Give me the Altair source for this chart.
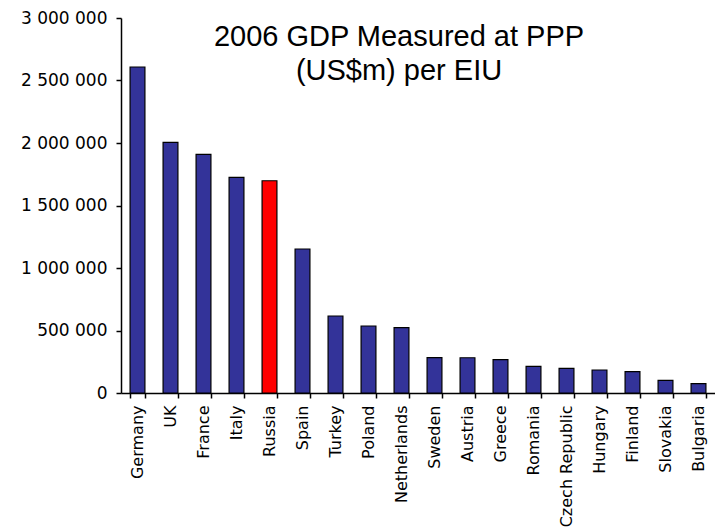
import altair as alt
import pandas as pd

countries = ["Germany", "UK", "France", "Italy", "Russia", "Spain", "Turkey", "Poland",
             "Netherlands", "Sweden", "Austria", "Greece", "Romania", "Czech Republic",
             "Hungary", "Finland", "Slovakia", "Bulgaria"]
gdp = [2608000, 2005000, 1909000, 1725000, 1698000, 1152000, 616000, 536000,
       523000, 283000, 282000, 267000, 213000, 197000, 184000, 171000, 101000, 75000]
highlight = ["Russia"]
title_lines = "2006 GDP Measured at PPP\n(US$m) per EIU"
y_ticks = [0, 500000, 1000000, 1500000, 2000000, 2500000, 3000000]

df = pd.DataFrame({"country": countries, "gdp": gdp})
df["hl"] = df["country"].isin(highlight).map({True: "yes", False: "no"})

axis_font = "DejaVu Sans"

bars = alt.Chart(df).mark_bar(stroke="black", strokeWidth=1.2).encode(
    x=alt.X("country:N", sort=countries, title=None,
            scale=alt.Scale(paddingInner=0.55, paddingOuter=0.275),
            axis=alt.Axis(labelAngle=-90, labelAlign="right", labelBaseline="middle",
                          labelFont=axis_font, labelFontSize=16, labelColor="black",
                          tickBand="extent", tickSize=5, tickColor="black",
                          domainColor="black", labelPadding=7)),
    y=alt.Y("gdp:Q", title=None,
            scale=alt.Scale(domain=[0, 3000000], nice=False),
            axis=alt.Axis(values=y_ticks, grid=False, tickSize=5, tickColor="black",
                          domainColor="black", labelFont=axis_font, labelFontSize=17,
                          labelColor="black", labelPadding=9,
                          labelExpr="replace(replace(format(datum.value, ',d'), ',', ' '), ',', ' ')")),
    color=alt.Color("hl:N", scale=alt.Scale(domain=["no", "yes"], range=["#333399", "#FF0000"]),
                    legend=None),
)

title = alt.Chart(pd.DataFrame({"t": [title_lines]})).mark_text(
    font="Liberation Sans", fontSize=29, lineBreak="\n", lineHeight=34,
    align="center", baseline="alphabetic", color="black"
).encode(text="t:N", x=alt.value(278), y=alt.value(28))

chart = alt.layer(bars, title).properties(
    width=594, height=375,
    autosize=alt.AutoSizeParams(type="none"),
    padding={"left": 121, "top": 18, "right": 0, "bottom": 139},
).configure_view(stroke=None).configure_axis(domainWidth=1.5, tickWidth=1.5)

chart.save("out.html", embed_options={"renderer": "svg", "actions": False})
